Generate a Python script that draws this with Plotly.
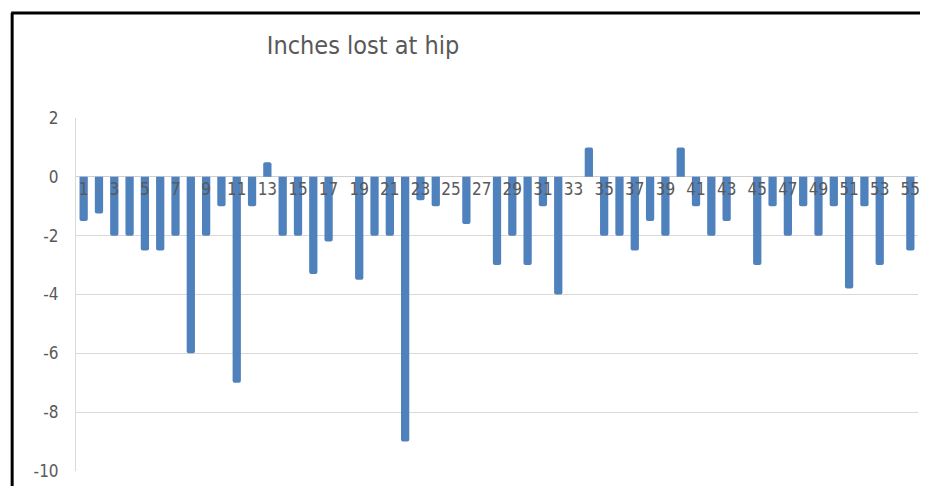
import plotly.graph_objects as go

categories = list(range(1, 56))
inches_lost = [
    -1.5, -1.25, -2, -2, -2.5, -2.5, -2, -6, -2, -1,
    -7, -1, 0.5, -2, -2, -3.3, -2.2, None, -3.5, -2,
    -2, -9, -0.8, -1, None, -1.6, None, -3, -2, -3,
    -1, -4, None, 1, -2, -2, -2.5, -1.5, -2, 1,
    -1, -2, -1.5, None, -3, -1, -2, -1, -2, -1,
    -3.8, -1, -3, None, -2.5,
]
x_tick_vals = list(range(1, 56, 2))
y_tick_vals = [2, 0, -2, -4, -6, -8, -10]

# page body has an 8px margin; lay out in page pixels then shift
OFF = 8
W, H = 928 - 2 * OFF, 494 - 2 * OFF
L, R, T, B = 76 - OFF, 920 - OFF, 118 - OFF, 471 - OFF

fig = go.Figure(
    go.Bar(
        x=categories,
        y=inches_lost,
        marker=dict(color="#4f81bd", line=dict(width=0), cornerradius=2),
        width=0.54,
    )
)

font_fam = "Liberation Sans Narrow, DejaVu Sans Condensed, Liberation Sans, sans-serif"

def px_x(p):
    return (p - OFF - L) / (R - L)

def px_y(q):
    return (B - (q - OFF)) / (B - T)

fig.update_layout(
    width=W,
    height=H,
    margin=dict(l=L, r=W - R, t=T, b=H - B, pad=0),
    paper_bgcolor="white",
    plot_bgcolor="white",
    showlegend=False,
    title=dict(
        text="Inches lost at hip",
        x=(363 - OFF) / W,
        xanchor="center",
        y=1 - (45 - OFF) / H,
        yanchor="middle",
        font=dict(family=font_fam, size=25, color="#595959"),
    ),
    xaxis=dict(
        range=[0.5, 55.5],
        tickmode="array",
        tickvals=x_tick_vals,
        ticktext=[str(v) for v in x_tick_vals],
        tickangle=0,
        anchor="free",
        position=10 / 12,
        showgrid=False,
        zeroline=False,
        showline=False,
        ticks="",
        ticklabeloverflow="allow",
        tickfont=dict(family=font_fam, size=17, color="#595959"),
    ),
    yaxis=dict(
        range=[-10, 2],
        tickmode="array",
        tickvals=y_tick_vals,
        ticktext=[str(v) for v in y_tick_vals],
        showgrid=True,
        gridcolor="#d9d9d9",
        gridwidth=1,
        zeroline=True,
        zerolinecolor="#cfcfcf",
        zerolinewidth=1,
        showline=True,
        linecolor="#d9d9d9",
        linewidth=1,
        ticks="",
        ticklabelstandoff=13,
        tickfont=dict(family=font_fam, size=17, color="#595959"),
    ),
    shapes=[
        dict(type="line", xref="paper", yref="paper",
             x0=px_x(12), x1=px_x(12), y0=px_y(13), y1=px_y(494),
             line=dict(color="black", width=3)),
        dict(type="line", xref="paper", yref="paper",
             x0=px_x(11), x1=px_x(928), y0=px_y(13), y1=px_y(13),
             line=dict(color="black", width=3)),
    ],
)

fig.write_html("out.html")
